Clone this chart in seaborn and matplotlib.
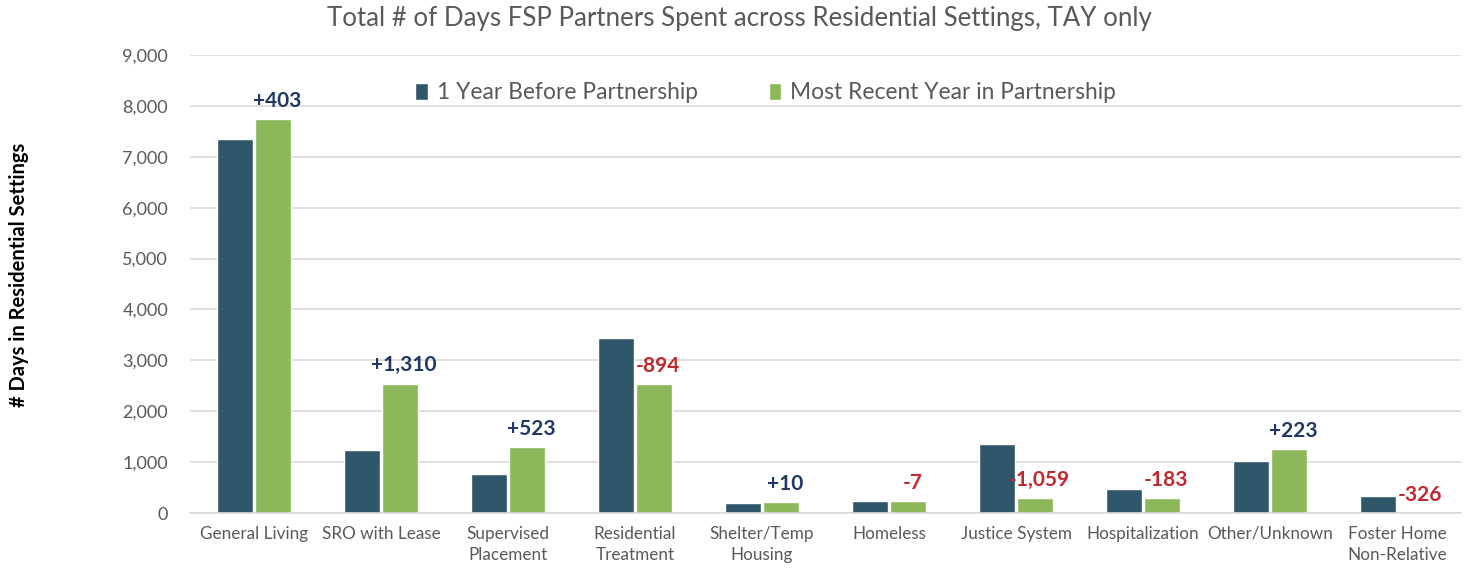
import pandas as pd
import matplotlib.pyplot as plt
import seaborn as sns

categories = ["General Living", "SRO with Lease", "Supervised\nPlacement", "Residential\nTreatment",
              "Shelter/Temp\nHousing", "Homeless", "Justice System", "Hospitalization",
              "Other/Unknown", "Foster Home\nNon-Relative"]
before = [7340, 1230, 770, 3430, 200, 240, 1355, 480, 1030, 326]
recent = [7743, 2540, 1293, 2536, 210, 233, 296, 297, 1253, 0]
series = ["1 Year Before Partnership", "Most Recent Year in Partnership"]

df = pd.DataFrame({
    "category": categories * 2,
    "days": before + recent,
    "period": [series[0]] * len(categories) + [series[1]] * len(categories),
})

sns.set_style("white")
plt.rcParams["font.family"] = ["Lato", "DejaVu Sans"]

fig = plt.figure(figsize=(14.65, 5.72), dpi=100)
ax = fig.add_axes([0.13, 0.103, 0.867, 0.801])

sns.barplot(data=df, x="category", y="days", hue="period", order=categories, hue_order=series,
            palette=["#2F5769", "#8DB85A"], width=0.6, gap=0.06, saturation=1, ax=ax)

ax.set_ylim(0, 9000)
ax.set_xlim(-0.5, len(categories) - 0.5)
ax.set_yticks(range(0, 9001, 1000))
ax.set_yticklabels([f"{v:,}" for v in range(0, 9001, 1000)])
ax.yaxis.grid(True, color="#D9D9D9", linewidth=1.2)
ax.set_axisbelow(True)
for s in ["top", "right", "left"]:
    ax.spines[s].set_visible(False)
ax.spines["bottom"].set_color("#D9D9D9")
ax.spines["bottom"].set_linewidth(1.2)
ax.tick_params(axis="y", length=0, colors="#595959", labelsize=13, pad=16)
ax.tick_params(axis="x", length=0, colors="#595959", labelsize=12.3, pad=9)
for lab in ax.get_xticklabels():
    lab.set_linespacing(1.45)
ax.set_xlabel("")
ax.set_ylabel("# Days in Residential Settings", fontsize=14.5, fontweight="bold",
              color="black", labelpad=0)
ax.yaxis.set_label_coords(-0.127, 0.52)

# change labels above the green bars
for bar, b, r in zip(ax.containers[1], before, recent):
    d = r - b
    txt = f"+{d:,}" if d >= 0 else f"-{abs(d):,}"
    col = "#1F3864" if d >= 0 else "#C0282D"
    ax.annotate(txt, (bar.get_x() + bar.get_width() / 2, max(r, 0)), xytext=(3, 6),
                textcoords="offset points", ha="center", va="bottom",
                fontsize=15, fontweight="bold", color=col)

ax.legend(loc="upper center", bbox_to_anchor=(0.453, 0.985), ncol=2, frameon=False,
          fontsize=16.4, handlelength=0.55, handleheight=0.8, handletextpad=0.4,
          columnspacing=3.1, labelcolor="#595959")

fig.suptitle("Total # of Days FSP Partners Spent across Residential Settings, TAY only",
             x=0.505, y=0.99, fontsize=18.6, color="#595959")

fig.savefig("out.png", dpi=100)
